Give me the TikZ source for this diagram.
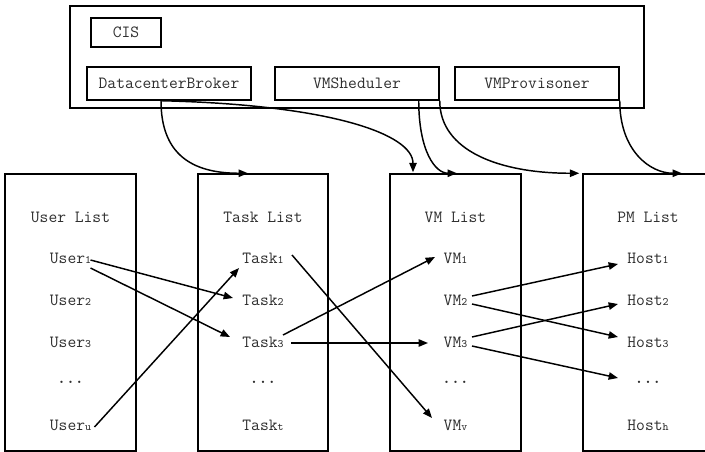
\documentclass[tikz,border=0pt]{standalone}
\usepackage{fontspec}
\usetikzlibrary{arrows.meta,calc}
\definecolor{txt}{HTML}{2E2E2E}
\newcommand{\diagfont}{\ttfamily\fontsize{12.8}{15}\selectfont}
\tikzset{
  boxline/.style={draw=black, line width=1.1pt},
  compbox/.style={boxline, minimum height={33*0.75pt}, inner sep=0pt, font=\diagfont, text=txt},
  item/.style={inner sep=0pt, font=\diagfont, text=txt},
  conn/.style={line width=1.1pt, -{Triangle[length=7pt,width=5.5pt]}},
}
\newcommand{\subn}[1]{{\fontsize{8.5}{9}\selectfont #1}}
\newcommand{\vdotsrow}{\textbf{...}}
\begin{document}
\begin{tikzpicture}[x=0.75pt,y=-0.75pt]
\useasboundingbox (0,0) rectangle (705,452);
% top container
\node[boxline, minimum width={574*0.75pt}, minimum height={102*0.75pt}, inner sep=0pt] (top) at (357,57) {};
\node[compbox, minimum width={70*0.75pt}, minimum height={29*0.75pt}] (cis) at (126,32.5) {CIS};
\node[compbox, minimum width={164*0.75pt}] (db) at (169,83.5) {DatacenterBroker};
\node[compbox, minimum width={164*0.75pt}] (vms) at (357,83.5) {VMSheduler};
\node[compbox, minimum width={164*0.75pt}] (vmp) at (537,83.5) {VMProvisoner};
% lists
\node[boxline, minimum width={131*0.75pt}, minimum height={277*0.75pt}, inner sep=0pt] (ul) at (70.5,312.5) {};
\node[boxline, minimum width={130*0.75pt}, minimum height={277*0.75pt}, inner sep=0pt] (tl) at (263,312.5) {};
\node[boxline, minimum width={131*0.75pt}, minimum height={277*0.75pt}, inner sep=0pt] (vl) at (455.5,312.5) {};
\node[boxline, minimum width={132*0.75pt}, minimum height={277*0.75pt}, inner sep=0pt] (pl) at (649,312.5) {};
% user items
\node[item] (uh) at (70.5,217) {User List};
\node[item] (u1) at (70.5,258) {User\subn{1}};
\node[item] (u2) at (70.5,300) {User\subn{2}};
\node[item] (u3) at (70.5,342) {User\subn{3}};
\node[item] (ud) at (70.5,382) {\vdotsrow};
\node[item] (uu) at (70.5,425) {User\subn{u}};
% task items
\node[item] (th) at (263,217) {Task List};
\node[item] (t1) at (263,258) {Task\subn{1}};
\node[item] (t2) at (263,300) {Task\subn{2}};
\node[item] (t3) at (263,342) {Task\subn{3}};
\node[item] (td) at (263,382) {\vdotsrow};
\node[item] (tt) at (263,425) {Task\subn{t}};
% vm items
\node[item] (vh) at (455.5,217) {VM List};
\node[item] (v1) at (455.5,258) {VM\subn{1}};
\node[item] (v2) at (455.5,300) {VM\subn{2}};
\node[item] (v3) at (455.5,342) {VM\subn{3}};
\node[item] (vd) at (455.5,382) {\vdotsrow};
\node[item] (vv) at (455.5,425) {VM\subn{v}};
% pm items
\node[item] (ph) at (648,217) {PM List};
\node[item] (h1) at (648,258) {Host\subn{1}};
\node[item] (h2) at (648,300) {Host\subn{2}};
\node[item] (h3) at (648,342) {Host\subn{3}};
\node[item] (hd) at (648,382) {\vdotsrow};
\node[item] (hh) at (648,425) {Host\subn{h}};
% item arrows
\draw[conn] ($(u1)+(20,2)$) -- ($(t2)+(-30,-2)$);
\draw[conn] ($(u1)+(20,10)$) -- ($(t3)+(-33,-5)$);
\draw[conn] ($(uu)+(24,2)$) -- ($(t1)+(-24,10)$);
\draw[conn] ($(t1)+(29,-3)$) -- ($(vv)+(-23.5,-7)$);
\draw[conn] ($(t3)+(20,-7)$) -- ($(v1)+(-20.5,-1)$);
\draw[conn] ($(t3)+(28,1)$) -- ($(v3)+(-27.5,1)$);
\draw[conn] ($(v2)+(16.5,-4)$) -- ($(h1)+(-30,6)$);
\draw[conn] ($(v2)+(16.5,4)$) -- ($(h3)+(-30,-5)$);
\draw[conn] ($(v3)+(16.5,-5)$) -- ($(h2)+(-30,4)$);
\draw[conn] ($(v3)+(16.5,4)$) -- ($(hd)+(-30,-4)$);
% top curves
\draw[conn] ($(db.south)+(-8,0)$) .. controls +(0,52) and +(-58,0) .. ($(tl.north)+(-15,0)$);
\draw[conn] ($(db.south)+(-8,0)$) .. controls +(170,4) and +(0,-38) .. ($(vl.north)+(-42.5,-1)$);
\draw[conn] ($(vms.south east)+(-21,0)$) .. controls +(0,50) and +(-22,0) .. ($(vl.north)+(1.5,0)$);
\draw[conn] (vms.south east) .. controls +(0,50) and +(-80,0) .. ($(pl.north west)+(-3,0)$);
\draw[conn] (vmp.south east) .. controls +(0,50) and +(-32,0) .. ($(pl.north)+(33,0)$);
\end{tikzpicture}
\end{document}
